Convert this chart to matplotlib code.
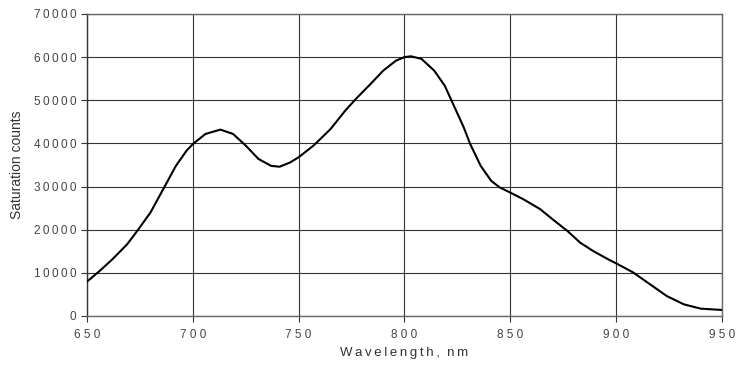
import matplotlib
matplotlib.use("Agg")
import matplotlib.pyplot as plt

wavelength = [650, 656, 662, 669, 674, 680, 686, 692, 697, 700, 706, 713, 719, 725, 731, 737, 741, 746, 750,
              757, 765, 772, 777, 784, 790, 796, 800, 803, 808, 814, 819, 823, 828, 831, 836, 841, 845, 850,
              856, 864, 870, 877, 883, 889, 896, 900, 908, 916, 924, 932, 940, 950]
counts = [7970, 10450, 13150, 16640, 19900, 24000, 29400, 34800, 38300, 39860, 42200, 43200, 42200, 39500, 36400,
          34800, 34600, 35600, 36800, 39500, 43300, 47600, 50300, 53800, 56900, 59200, 60000, 60200, 59600, 56900,
          53400, 49100, 43700, 39900, 34800, 31300, 29800, 28600, 27100, 24800, 22400, 19700, 17000, 15100, 13200,
          12200, 10100, 7350, 4600, 2700, 1700, 1400]

xticks = [650, 700, 750, 800, 850, 900, 950]
yticks = [0, 10000, 20000, 30000, 40000, 50000, 60000, 70000]

plt.rcParams['font.family'] = ['Liberation Sans', 'DejaVu Sans']

fig = plt.figure(figsize=(7.36, 3.66), dpi=100)
ax = fig.add_axes([87/736, 1 - 316/366, (722-87)/736, (316-14)/366])

ax.plot(wavelength, counts, color='black', lw=1.5, zorder=3, solid_joinstyle='round')

ax.set_xlim(650, 950)
ax.set_ylim(0, 70000)
ax.set_xticks(xticks)
ax.set_yticks(yticks)
ax.set_xticklabels([" ".join(str(t)) for t in xticks])
ax.set_yticklabels(["\u2009".join(str(t)) for t in yticks])
ax.grid(True, color='#333333', lw=0.8)
for s in ['top', 'right', 'left', 'bottom']:
    ax.spines[s].set_color('#666666')
    ax.spines[s].set_linewidth(1.0)
ax.spines['left'].set_color('#333333')
ax.tick_params(length=4, width=0.8, color='#333333', labelcolor='#444444', labelsize=8.5)
ax.tick_params(axis='x', pad=5)
xl = "Wavelength,"
xlabel = "\u2009".join(xl) + "  " + "\u2009".join("nm")
ax.set_xlabel(xlabel, color='#333333', fontsize=9.5, labelpad=5)
ax.set_ylabel("Saturation counts", color='#333333', fontsize=10, labelpad=7)

fig.savefig("out.png", dpi=100)
